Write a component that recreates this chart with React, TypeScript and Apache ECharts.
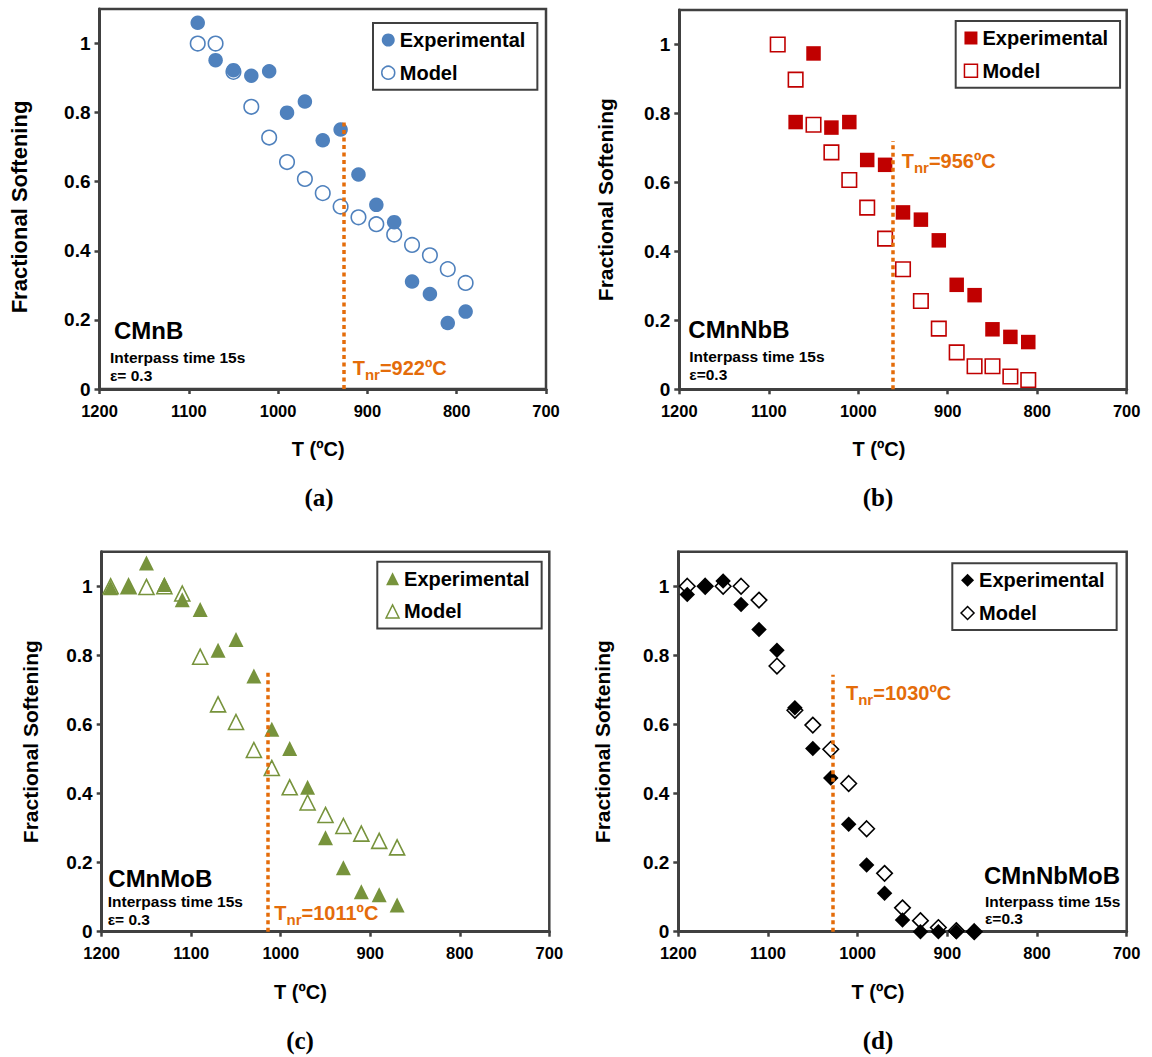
import React, { useEffect, useRef } from 'react';
import * as echarts from 'echarts';

const FONT = '"Liberation Sans", Arial, Helvetica, sans-serif';
const SERIF = '"Liberation Serif", "Times New Roman", serif';
const AX = '#404040';
const ORANGE = '#E46C0A';

// ---------- data (T in ºC, fractional softening) ----------
const tempsA = [1090, 1070, 1050, 1030, 1010, 990, 970, 950, 930, 910, 890, 870, 850, 830, 810, 790];
const expA = [1.06, 0.952, 0.923, 0.907, 0.92, 0.8, 0.832, 0.72, 0.751, 0.621, 0.533, 0.483, 0.311, 0.275, 0.191, 0.224];
const modelA = [1.0, 1.0, 0.918, 0.817, 0.728, 0.657, 0.608, 0.567, 0.528, 0.497, 0.477, 0.447, 0.417, 0.387, 0.347, 0.307];

const tempsBExp = [1070, 1050, 1030, 1010, 990, 970, 950, 930, 910, 890, 870, 850, 830, 810];
const expB = [0.775, 0.974, 0.759, 0.775, 0.665, 0.651, 0.513, 0.492, 0.432, 0.303, 0.273, 0.174, 0.152, 0.137];
const tempsBModel = [1090, 1070, 1050, 1030, 1010, 990, 970, 950, 930, 910, 890, 870, 850, 830, 810];
const modelB = [1.0, 0.898, 0.767, 0.687, 0.607, 0.527, 0.437, 0.348, 0.256, 0.176, 0.107, 0.067, 0.067, 0.037, 0.027];

const tempsC = [1190, 1170, 1150, 1130, 1110, 1090, 1070, 1050, 1030, 1010, 990, 970, 950, 930, 910, 890, 870];
const expC = [0.996, 1.0, 1.067, 1.005, 0.961, 0.933, 0.815, 0.846, 0.74, 0.586, 0.53, 0.418, 0.272, 0.185, 0.116, 0.107, 0.077];
const modelC = [1.0, 1.0, 0.998, 1.0, 0.979, 0.796, 0.658, 0.607, 0.526, 0.474, 0.418, 0.374, 0.338, 0.306, 0.284, 0.263, 0.244];

const tempsD = [1190, 1170, 1150, 1130, 1110, 1090, 1070, 1050, 1030, 1010, 990, 970, 950, 930, 910, 890, 870];
const expD = [0.976, 1.0, 1.015, 0.947, 0.875, 0.815, 0.648, 0.53, 0.445, 0.311, 0.193, 0.111, 0.034, 0, 0, 0, 0];
const modelD = [1.0, 1.0, 1.0, 1.0, 0.96, 0.769, 0.641, 0.598, 0.528, 0.429, 0.298, 0.169, 0.069, 0.032, 0.012, 0.003, 0.0];

const xTicks = [1200, 1100, 1000, 900, 800, 700];
const yTicks = [0, 0.2, 0.4, 0.6, 0.8, 1];

const tnrLabels = ['922', '956', '1011', '1030'];
const tnrLineT = [926.5, 961, 1014, 1028];
const tnrLineTop = [0.78, 0.72, 0.757, 0.744];

const steelNames = ['CMnB', 'CMnNbB', 'CMnMoB', 'CMnNbMoB'];
const strainTexts = ['ε= 0.3', 'ε=0.3', 'ε= 0.3', 'ε=0.3'];
const panelTags = ['(a)', '(b)', '(c)', '(d)'];

const zip = (xs: number[], ys: number[]) => xs.map((x, i) => [x, ys[i]]);

type Panel = {
  qx: number; qy: number;
  grid: [number, number, number, number];
  color: string; symbol: string; size: number;
  exp: number[][]; model: number[][];
  idx: number;
  legend: [number, number];
  steelPos: [number, number]; interpassPos: [number, number]; strainPos: [number, number];
  tnrPos: [number, number];
  tagPos: [number, number];
  xNameShift: number;
  yNameX: number;
  yNameShift: number;
  yNameSize: number;
  yLabelSize: number;
};

const panels: Panel[] = [
  {
    qx: 0, qy: 0, grid: [99, 9, 447, 380], color: '#4F81BD', symbol: 'circle', size: 14.5,
    exp: zip(tempsA, expA), model: zip(tempsA, modelA), idx: 0, legend: [373, 23],
    steelPos: [114, 330.5], interpassPos: [110, 357.3], strainPos: [110, 375.5],
    tnrPos: [352.7, 368], tagPos: [319, 497], xNameShift: -4.5, yNameX: 18.5, yNameShift: 8, yNameSize: 22, yLabelSize: 19,
  },
  {
    qx: 576, qy: 0, grid: [103.3, 10, 447.4, 379.3], color: '#C00000', symbol: 'rect', size: 14.5,
    exp: zip(tempsBExp, expB), model: zip(tempsBModel, modelB), idx: 1, legend: [379.7, 21],
    steelPos: [112.3, 329], interpassPos: [113.3, 356.7], strainPos: [113.3, 374.8],
    tnrPos: [325.7, 161], tagPos: [302, 497], xNameShift: -24, yNameX: 29, yNameShift: 0, yNameSize: 21, yLabelSize: 19,
  },
  {
    qx: 0, qy: 528, grid: [101.7, 23.7, 447.6, 380], color: '#77933C', symbol: 'triangle', size: 15,
    exp: zip(tempsC, expC), model: zip(tempsC, modelC), idx: 2, legend: [377.3, 33.7],
    steelPos: [108.3, 350.3], interpassPos: [107.7, 373], strainPos: [107.7, 391],
    tnrPos: [274.3, 385], tagPos: [300, 512], xNameShift: -25, yNameX: 30, yNameShift: 0, yNameSize: 21, yLabelSize: 19,
  },
  {
    qx: 576, qy: 528, grid: [102.3, 23.7, 448.4, 380], color: '#000000', symbol: 'diamond', size: 15.5,
    exp: zip(tempsD, expD), model: zip(tempsD, modelD), idx: 3, legend: [376.3, 35.3],
    steelPos: [408, 347.3], interpassPos: [409, 373], strainPos: [409, 390.7],
    tnrPos: [270, 165.3], tagPos: [302, 512], xNameShift: -24.5, yNameX: 26.5, yNameShift: 0, yNameSize: 21, yLabelSize: 19,
  },
];

function buildOption(p: Panel) {
  const [gl, gt, gw, gh] = p.grid;
  const i = p.idx;
  const bold = (size: number, fam = FONT) => `bold ${size}px ${fam}`;
  return {
    animation: false,
    textStyle: { fontFamily: FONT },
    grid: { left: gl, top: gt, width: gw, height: gh, show: true, borderColor: AX, borderWidth: 2.5, backgroundColor: 'transparent' },
    xAxis: {
      type: 'value', min: 700, max: 1200, interval: 100, inverse: true,
      axisLine: { show: true, onZero: false, lineStyle: { color: AX, width: 3 } },
      axisTick: { show: true, length: 5, lineStyle: { color: AX, width: 2.5 } },
      axisLabel: {
        fontSize: 16.5, fontWeight: 'bold', color: '#000', fontFamily: FONT, margin: 13, customValues: xTicks,
        formatter: (v: number) => String(Math.round(v)),
      },
      splitLine: { show: false },
      name: 'T (ºC)', nameLocation: 'middle', nameGap: 50,
      nameTextStyle: {
        fontSize: 20, fontWeight: 'bold', color: '#000', fontFamily: FONT,
        padding: p.xNameShift < 0 ? [0, -2 * p.xNameShift, 0, 0] : [0, 0, 0, 2 * p.xNameShift],
      },
    },
    yAxis: {
      type: 'value', min: 0, max: 1.1, interval: 0.2,
      axisLine: { show: true, onZero: false, lineStyle: { color: AX, width: 3 } },
      axisTick: { show: true, length: 5, lineStyle: { color: AX, width: 2.5 }, customValues: yTicks },
      axisLabel: {
        fontSize: p.yLabelSize, fontWeight: 'bold', color: '#000', fontFamily: FONT, margin: 9,
        customValues: yTicks,
        formatter: (v: number) => (v > 1.05 ? '' : String(Math.round(v * 10) / 10)),
      },
      splitLine: { show: false },
      name: 'Fractional Softening', nameLocation: 'middle', nameRotate: 90,
      nameGap: gl - p.yNameX - p.yNameSize / 2,
      nameTextStyle: {
        fontSize: p.yNameSize, fontWeight: 'bold', color: '#000', fontFamily: FONT,
        padding: [0, 2 * p.yNameShift, 0, 0],
      },
    },
    legend: {
      orient: 'vertical', left: p.legend[0], top: p.legend[1],
      padding: [7, 12, 7, 8], itemGap: 12.7, itemWidth: 13, itemHeight: 13,
      borderColor: AX, borderWidth: 2, backgroundColor: '#fff', selectedMode: false,
      textStyle: { fontSize: 20, fontWeight: 'bold', color: '#000', fontFamily: FONT, lineHeight: 20 },
      data: [
        { name: 'Experimental', icon: p.symbol, itemStyle: { color: p.color, borderWidth: 0, opacity: 1 } },
        { name: 'Model', icon: p.symbol, itemStyle: { color: '#fff', borderColor: p.color, borderWidth: 1.5, opacity: 1 } },
      ],
    },
    series: [
      {
        type: 'scatter', name: 'Model', data: p.model, symbol: p.symbol, symbolSize: p.size,
        itemStyle: { color: '#fff', borderColor: p.color, borderWidth: 1.6, opacity: 1 }, z: 2, silent: true,
      },
      {
        type: 'scatter', name: 'Experimental', data: p.exp, symbol: p.symbol, symbolSize: p.size,
        itemStyle: { color: p.color, borderWidth: 0, opacity: 1 }, z: 3, silent: true,
        markLine: {
          silent: true, symbol: ['none', 'none'], label: { show: false },
          lineStyle: { color: ORANGE, width: 3.5, type: [4, 3.5], opacity: 1 },
          emphasis: { disabled: true },
          data: [[{ coord: [tnrLineT[i], 0] }, { coord: [tnrLineT[i], tnrLineTop[i]] }]],
        },
      },
    ],
    graphic: [
      {
        type: 'text', x: p.steelPos[0], y: p.steelPos[1], silent: true,
        style: { text: steelNames[i], fill: '#000', font: bold(24), align: 'left', verticalAlign: 'middle', textAlign: 'left', textVerticalAlign: 'middle' },
      },
      {
        type: 'text', x: p.interpassPos[0], y: p.interpassPos[1], silent: true,
        style: { text: 'Interpass time 15s', fill: '#000', font: bold(15.5), align: 'left', verticalAlign: 'middle', textAlign: 'left', textVerticalAlign: 'middle' },
      },
      {
        type: 'text', x: p.strainPos[0], y: p.strainPos[1], silent: true,
        style: { text: strainTexts[i], fill: '#000', font: bold(15.5), align: 'left', verticalAlign: 'middle', textAlign: 'left', textVerticalAlign: 'middle' },
      },
      {
        type: 'text', x: p.tnrPos[0], y: p.tnrPos[1], silent: true,
        style: {
          text: `{a|T}{b|nr}{a|=${tnrLabels[i]}ºC}`,
          fill: ORANGE, align: 'left', verticalAlign: 'middle', textAlign: 'left', textVerticalAlign: 'middle',
          rich: {
            a: { fontSize: 20, fontWeight: 'bold', fontFamily: FONT, fill: ORANGE, color: ORANGE, lineHeight: 28 },
            b: { fontSize: 15, fontWeight: 'bold', fontFamily: FONT, fill: ORANGE, color: ORANGE, lineHeight: 15, verticalAlign: 'bottom' },
          },
        },
      },
      {
        type: 'text', x: p.tagPos[0], y: p.tagPos[1], silent: true,
        style: { text: panelTags[i], fill: '#000', font: bold(25, SERIF), align: 'center', verticalAlign: 'middle', textAlign: 'center', textVerticalAlign: 'middle' },
      },
    ],
  };
}

function ChartPanel({ p }: { p: Panel }) {
  const ref = useRef<HTMLDivElement>(null);
  useEffect(() => {
    if (!ref.current) return;
    const chart = echarts.init(ref.current, undefined, { renderer: 'svg' });
    chart.setOption(buildOption(p) as any);
    return () => chart.dispose();
  }, [p]);
  return (
    <div
      ref={ref}
      style={{ position: 'absolute', left: p.qx, top: p.qy, width: 576, height: 529 }}
    />
  );
}

export default function App() {
  return (
    <div style={{ position: 'absolute', left: 0, top: 0, width: 1152, height: 1057, background: '#fff' }}>
      {panels.map((p) => (
        <ChartPanel key={p.idx} p={p} />
      ))}
    </div>
  );
}
